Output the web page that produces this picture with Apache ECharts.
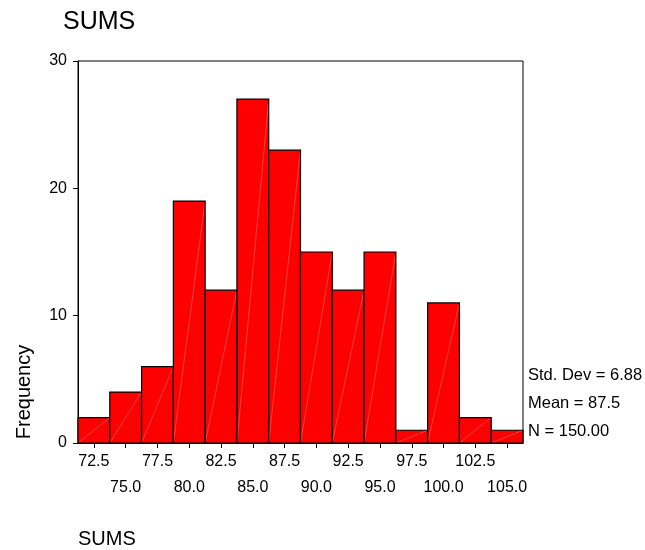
<!DOCTYPE html>
<html>
<head>
<meta charset="utf-8">
<script src="https://cdn.jsdelivr.net/npm/echarts@6/dist/echarts.min.js"></script>
<style>
html,body{margin:0;padding:0;background:#fff;}
#chart{width:645px;height:550px;}
</style>
</head>
<body>
<div id="chart"></div>
<script>
const binCenters = [72.5, 75.0, 77.5, 80.0, 82.5, 85.0, 87.5, 90.0, 92.5, 95.0, 97.5, 100.0, 102.5, 105.0];
const frequencies = [2, 4, 6, 19, 12, 27, 23, 15, 12, 15, 1, 11, 2, 1];
const labelsRow1 = [72.5, 77.5, 82.5, 87.5, 92.5, 97.5, 102.5];
const labelsRow2 = [75.0, 80.0, 85.0, 90.0, 95.0, 100.0, 105.0];
const yTicks = [0, 10, 20, 30];
const statsLines = ['Std. Dev = 6.88', 'Mean = 87.5', 'N = 150.00'];
const binWidth = 2.5;

const FONT = '"Liberation Sans", Arial, Helvetica, sans-serif';
const chart = echarts.init(document.getElementById('chart'));
const xMin = binCenters[0] - binWidth / 2;
const xMax = binCenters[binCenters.length - 1] + binWidth / 2;

const baseX = {
  type: 'value', min: xMin, max: xMax, position: 'bottom',
  splitLine: {show: false}
};

chart.setOption({
  animation: false,
  backgroundColor: '#fff',
  grid: {left: 78, right: 122, top: 61, bottom: 107, show: true, borderColor: '#000', borderWidth: 1, backgroundColor: 'transparent'},
  xAxis: [
    Object.assign({}, baseX, {
      axisLine: {show: true, lineStyle: {color: '#000', width: 1}},
      axisTick: {show: true, length: 5, lineStyle: {color: '#000'}, customValues: binCenters},
      axisLabel: {show: true, margin: 11, color: '#000', fontSize: 16, fontFamily: FONT,
        customValues: labelsRow1, formatter: v => v.toFixed(1)}
    }),
    Object.assign({}, baseX, {
      axisLine: {show: false},
      axisTick: {show: false},
      axisLabel: {show: true, margin: 37, color: '#000', fontSize: 16, fontFamily: FONT,
        customValues: labelsRow2, formatter: v => v.toFixed(1)}
    })
  ],
  yAxis: {
    type: 'value', min: yTicks[0], max: yTicks[yTicks.length - 1], interval: 10,
    axisLine: {show: true, lineStyle: {color: '#000', width: 1}},
    axisTick: {show: true, length: 5, lineStyle: {color: '#000'}},
    axisLabel: {margin: 11, color: '#000', fontSize: 16, fontFamily: FONT},
    splitLine: {show: false}
  },
  graphic: [
    {type: 'text', left: 63, top: 10, style: {text: 'SUMS', fontSize: 25, fontFamily: FONT, fill: '#000'}},
    {type: 'text', left: 78, top: 529, style: {text: 'SUMS', fontSize: 20, fontFamily: FONT, fill: '#000'}},
    {type: 'text', x: 24, y: 392, rotation: Math.PI / 2,
      style: {text: 'Frequency', fontSize: 20, fontFamily: FONT, fill: '#000', align: 'center', verticalAlign: 'middle'}},
    {type: 'text', x: 528, y: 375, style: {text: statsLines[0], fontSize: 16.5, fontFamily: FONT, fill: '#000', verticalAlign: 'middle'}},
    {type: 'text', x: 528, y: 403, style: {text: statsLines[1], fontSize: 16.5, fontFamily: FONT, fill: '#000', verticalAlign: 'middle'}},
    {type: 'text', x: 528, y: 431, style: {text: statsLines[2], fontSize: 16.5, fontFamily: FONT, fill: '#000', verticalAlign: 'middle'}}
  ],
  series: [{
    type: 'custom',
    xAxisIndex: 0,
    data: binCenters.map((c, i) => [c, frequencies[i]]),
    renderItem: function (params, api) {
      const c = api.value(0), v = api.value(1);
      const p0 = api.coord([c - binWidth / 2, v]);
      const p1 = api.coord([c + binWidth / 2, 0]);
      return {
        type: 'group',
        children: [
          {type: 'rect', shape: {x: p0[0], y: p0[1], width: p1[0] - p0[0], height: p1[1] - p0[1]},
            style: {fill: '#ff0000', stroke: null}},
          {type: 'line', shape: {x1: p0[0], y1: p1[1], x2: p1[0], y2: p0[1]},
            style: {stroke: 'rgba(255,180,180,0.6)', lineWidth: 0.6}},
          {type: 'rect', shape: {x: p0[0], y: p0[1], width: p1[0] - p0[0], height: p1[1] - p0[1]},
            style: {fill: null, stroke: '#000', lineWidth: 1.2}}
        ]
      };
    }
  }]
});
</script>
</body>
</html>
